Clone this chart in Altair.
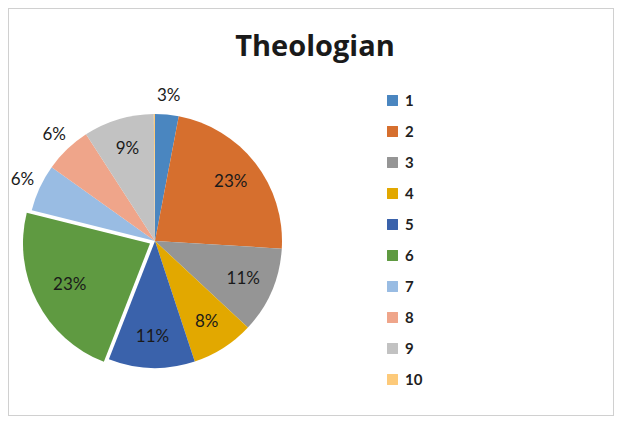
import altair as alt
import pandas as pd

categories = ["1", "2", "3", "4", "5", "6", "7", "8", "9", "10"]
values = [3, 23, 11, 8, 11, 23, 6, 6, 9, 0.15]
colors = ["#4a86c0", "#d66f2e", "#959595", "#e2a800", "#3a62ab",
          "#5f9a41", "#99bce3", "#efa58a", "#c2c2c2", "#fdca7a"]
title_text = "Theologian"

df = pd.DataFrame({"cat": categories, "value": values, "order": list(range(len(categories)))})

CX, CY, R = 147, 233, 127

base = (
    alt.Chart(df)
    .transform_window(cum="sum(value)", sort=[alt.SortField("order")], frame=[None, 0])
    .transform_joinaggregate(total="sum(value)")
    .transform_calculate(t1="(datum.cum - datum.value) / datum.total * 2 * PI")
    .transform_calculate(t2="datum.cum / datum.total * 2 * PI")
    .transform_calculate(tm="(datum.t1 + datum.t2) / 2")
)

color = alt.Color(
    "cat:N",
    sort=categories,
    scale=alt.Scale(domain=categories, range=colors),
    legend=alt.Legend(
        title=None, orient="none", legendX=377, legendY=85,
        symbolType="square", symbolSize=120, symbolStrokeWidth=0,
        labelFont="Lato", labelFontSize=15, labelFontWeight="bold",
        labelColor="#1f1f1f", rowPadding=15, labelOffset=5,
    ),
)

arcs = base.transform_filter('datum.cat != "6"').mark_arc(radius=R).encode(
    theta=alt.Theta("t1:Q", scale=None),
    theta2="t2:Q",
    color=color,
    x=alt.value(CX),
    y=alt.value(CY),
)

exploded = base.transform_filter('datum.cat == "6"').mark_arc(radius=R).encode(
    theta=alt.Theta("t1:Q", scale=None),
    theta2="t2:Q",
    color=color,
    x=alt.value(CX - 5),
    y=alt.value(CY + 2.5),
)

labels = (
    base.transform_filter("datum.value >= 1")
    .transform_calculate(lr="datum.value >= 8 ? 96 : 146")
    .transform_calculate(label="datum.value + '%'")
    .mark_text(font="Lato", fontSize=17, color="#1a1a1a", align="center", baseline="middle")
    .encode(
        theta=alt.Theta("tm:Q", scale=None),
        radius=alt.Radius("lr:Q", scale=None),
        text="label:N",
        x=alt.value(CX),
        y=alt.value(CY),
    )
)

title = alt.Chart(pd.DataFrame({"t": [title_text]})).mark_text(
    font="Open Sans", fontSize=29, fontWeight="bold", color="#1a1a1a",
    align="center", baseline="middle"
).encode(text="t:N", x=alt.value(307), y=alt.value(39))

chart = (
    alt.layer(arcs, exploded, labels, title)
    .properties(width=606, height=408, padding=0)
    .configure_view(stroke="#d0d0d0", strokeWidth=2)
)

chart.save("out.html", embed_options={"renderer": "svg", "actions": False})
